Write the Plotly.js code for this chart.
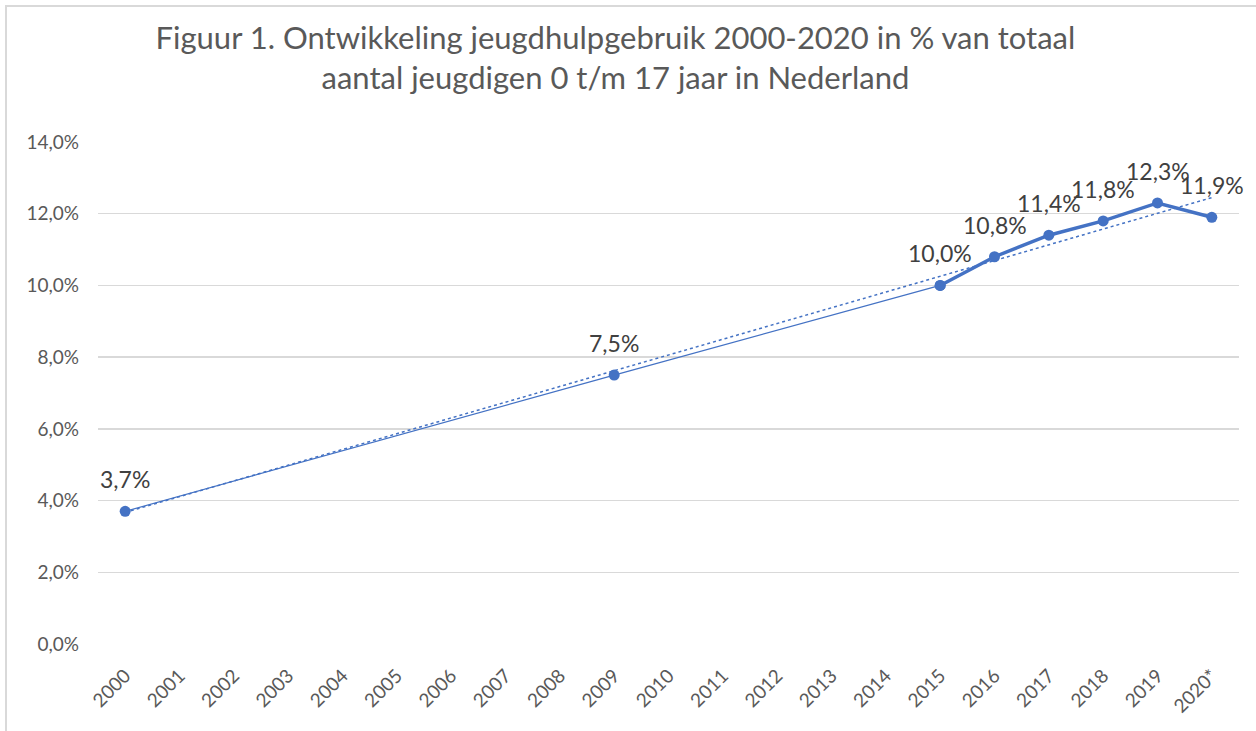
<!DOCTYPE html>
<html>
<head>
<meta charset="utf-8">
<script src="https://cdn.plot.ly/plotly-3.0.1.min.js"></script>
<style>
  html, body { margin: 0; padding: 0; background: #fff; }
  #chart { position: absolute; left: 0; top: 0; width: 1256px; height: 731px; }
  #frame { position: absolute; left: 5px; top: 5px; width: 1260px; height: 740px;
           border-left: 2px solid #d9d9d9; border-top: 2px solid #d9d9d9; pointer-events: none; }
</style>
</head>
<body>
<div id="chart"></div>
<div id="frame"></div>
<script>
const categories = ["2000","2001","2002","2003","2004","2005","2006","2007","2008","2009","2010",
  "2011","2012","2013","2014","2015","2016","2017","2018","2019","2020*"];
// early measurements (thin connecting line)
const earlyYears = ["2000", "2009", "2015"];
const earlyValues = [3.7, 7.5, 10.0];
// recent annual measurements (thick line)
const recentYears = ["2015", "2016", "2017", "2018", "2019", "2020*"];
const recentValues = [10.0, 10.8, 11.4, 11.8, 12.3, 11.9];
// linear trendline endpoints
const trendYears = ["2000", "2020*"];
const trendValues = [3.67, 12.45];
// data labels
const labelYears = ["2000", "2009", "2015", "2016", "2017", "2018", "2019", "2020*"];
const labelValues = [3.7, 7.5, 10.0, 10.8, 11.4, 11.8, 12.3, 11.9];
const yTicks = [0, 2, 4, 6, 8, 10, 12, 14];
const yTickText = ["0,0%", "2,0%", "4,0%", "6,0%", "8,0%", "10,0%", "12,0%", "14,0%"];

const blue = "#4472C4";
const fontFam = "Lato, 'Open Sans', sans-serif";

const traces = [
  { x: trendYears, y: trendValues, type: "scatter", mode: "lines",
    line: { color: blue, width: 1.5, dash: "dot" }, hoverinfo: "skip" },
  { x: earlyYears, y: earlyValues, type: "scatter", mode: "lines+markers",
    line: { color: blue, width: 1.2 }, marker: { color: blue, size: 11 } },
  { x: recentYears, y: recentValues, type: "scatter", mode: "lines+markers",
    line: { color: blue, width: 3.5 }, marker: { color: blue, size: 11 } }
];

const annotations = labelYears.map((yr, i) => ({
  x: categories.indexOf(yr), y: labelValues[i], xref: "x", yref: "y",
  text: labelValues[i].toFixed(1).replace(".", ",") + "%",
  showarrow: false, yshift: 32,
  font: { family: fontFam, size: 23, color: "#404040" }
}));

const layout = {
  width: 1256, height: 731,
  margin: { l: 98, r: 17, t: 142, b: 87 },
  paper_bgcolor: "#fff", plot_bgcolor: "#fff",
  showlegend: false,
  title: {
    text: "Figuur 1. Ontwikkeling jeugdhulpgebruik 2000-2020 in % van totaal<br>aantal jeugdigen 0 t/m 17 jaar in Nederland",
    font: { family: fontFam, size: 31, color: "#595959" },
    x: 0.49, xanchor: "center", yref: "container", y: 0.933, yanchor: "middle"
  },
  xaxis: {
    type: "category", categoryorder: "array", categoryarray: categories,
    tickvals: categories, ticktext: categories,
    range: [-0.5, categories.length - 0.5],
    showgrid: false, zeroline: false, showline: false, ticks: "",
    tickangle: -45, ticklabelstandoff: 16,
    tickfont: { family: fontFam, size: 19, color: "#595959" },
    fixedrange: true
  },
  yaxis: {
    range: [0, 14], tickvals: yTicks, ticktext: yTickText,
    showgrid: true, gridcolor: "#d9d9d9", gridwidth: 1.5,
    zeroline: false, showline: false, ticks: "",
    ticklabelstandoff: 18,
    tickfont: { family: fontFam, size: 19, color: "#595959" },
    fixedrange: true
  },
  annotations: annotations
};

Plotly.newPlot("chart", traces, layout, { displayModeBar: false, staticPlot: true });
</script>
</body>
</html>
